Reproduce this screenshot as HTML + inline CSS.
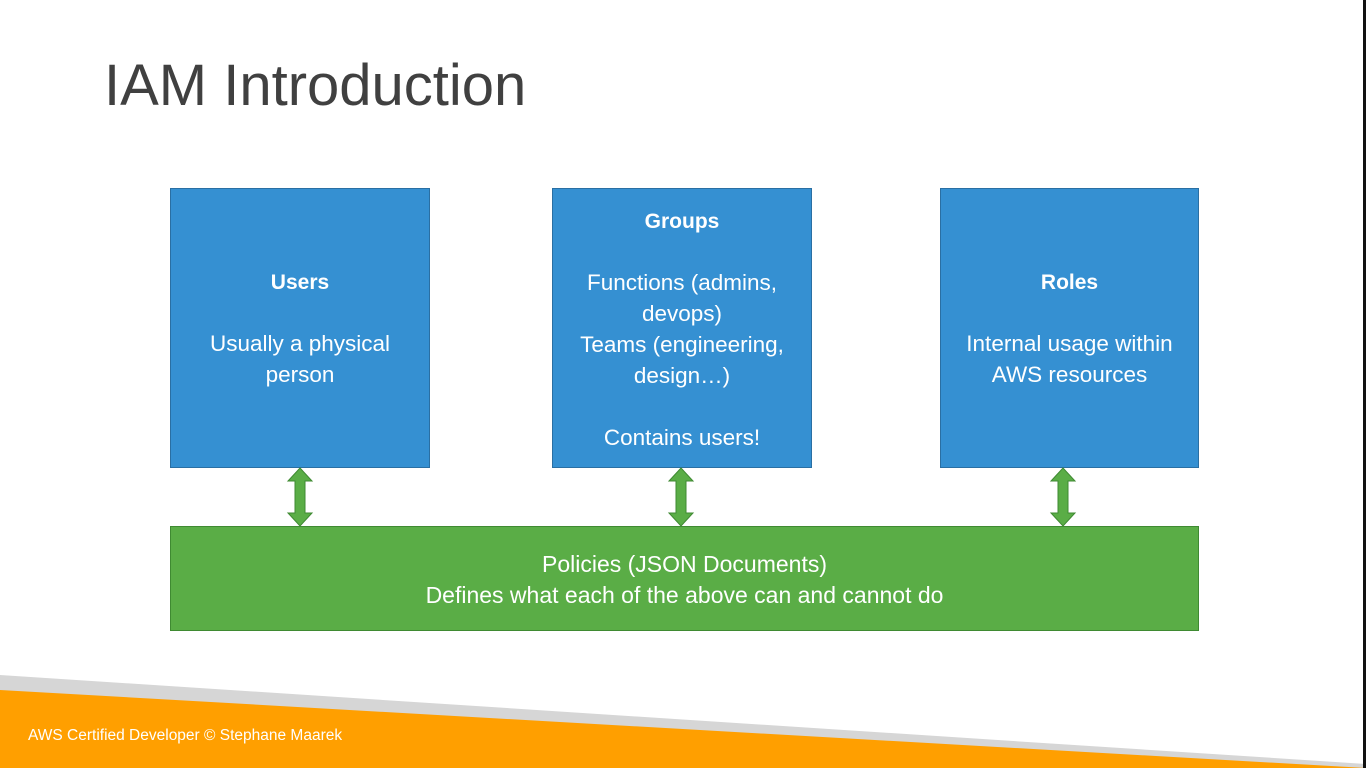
<!DOCTYPE html>
<html><head><style>
body{margin:0;width:1366px;height:768px;background:#fff;position:relative;overflow:hidden;font-family:"Liberation Sans",sans-serif}
h1{position:absolute;left:104px;top:52px;margin:0;font-weight:normal;font-size:58px;color:#404040;letter-spacing:0px}
.box{position:absolute;background:#3590d2;border:1px solid #2a6fa3;color:#fff;text-align:center;font-size:22.5px;line-height:31px;box-sizing:border-box;display:flex;flex-direction:column;justify-content:center}
.box b{display:block;margin-bottom:30px;font-size:21px}
.pol{position:absolute;left:170px;top:526px;width:1029px;height:105px;background:#5aad46;border:1px solid #3f8a32;box-sizing:border-box;color:#fff;text-align:center;font-size:23px;line-height:31px;padding-top:22px}
.foot{position:absolute;left:28px;top:727px;color:#fff;font-size:15.5px}
</style></head><body>
<h1>IAM Introduction</h1>
<div class="box" style="left:170px;top:188px;width:260px;height:280px"><b>Users</b>Usually a physical<br>person</div>
<div class="box" style="left:552px;top:188px;width:260px;height:280px;justify-content:flex-start;padding-top:17px"><b style="margin-bottom:30px">Groups</b>Functions (admins,<br>devops)<br>Teams (engineering,<br>design…)<br><br>Contains users!</div>
<div class="box" style="left:940px;top:188px;width:259px;height:280px"><b>Roles</b>Internal usage within<br>AWS resources</div>
<div class="pol">Policies (JSON Documents)<br>Defines what each of the above can and cannot do</div>
<svg width="1366" height="768" style="position:absolute;left:0;top:0">
<g fill="#5aad46" stroke="#3f8a32" stroke-width="1">
<polygon points="300,468 312,481 305,481 305,513 312,513 300,526 288,513 295,513 295,481 288,481"/>
<polygon points="681,468 693,481 686,481 686,513 693,513 681,526 669,513 676,513 676,481 669,481"/>
<polygon points="1063,468 1075,481 1068,481 1068,513 1075,513 1063,526 1051,513 1058,513 1058,481 1051,481"/>
</g>
<polygon points="0,675 1366,764 1366,768 0,768" fill="#d6d6d6"/>
<polygon points="0,690 1366,768 0,768" fill="#ff9f00"/>
<rect x="1363" y="0" width="3" height="768" fill="#111"/>
</svg>
<div class="foot">AWS Certified Developer © Stephane Maarek</div>
</body></html>
